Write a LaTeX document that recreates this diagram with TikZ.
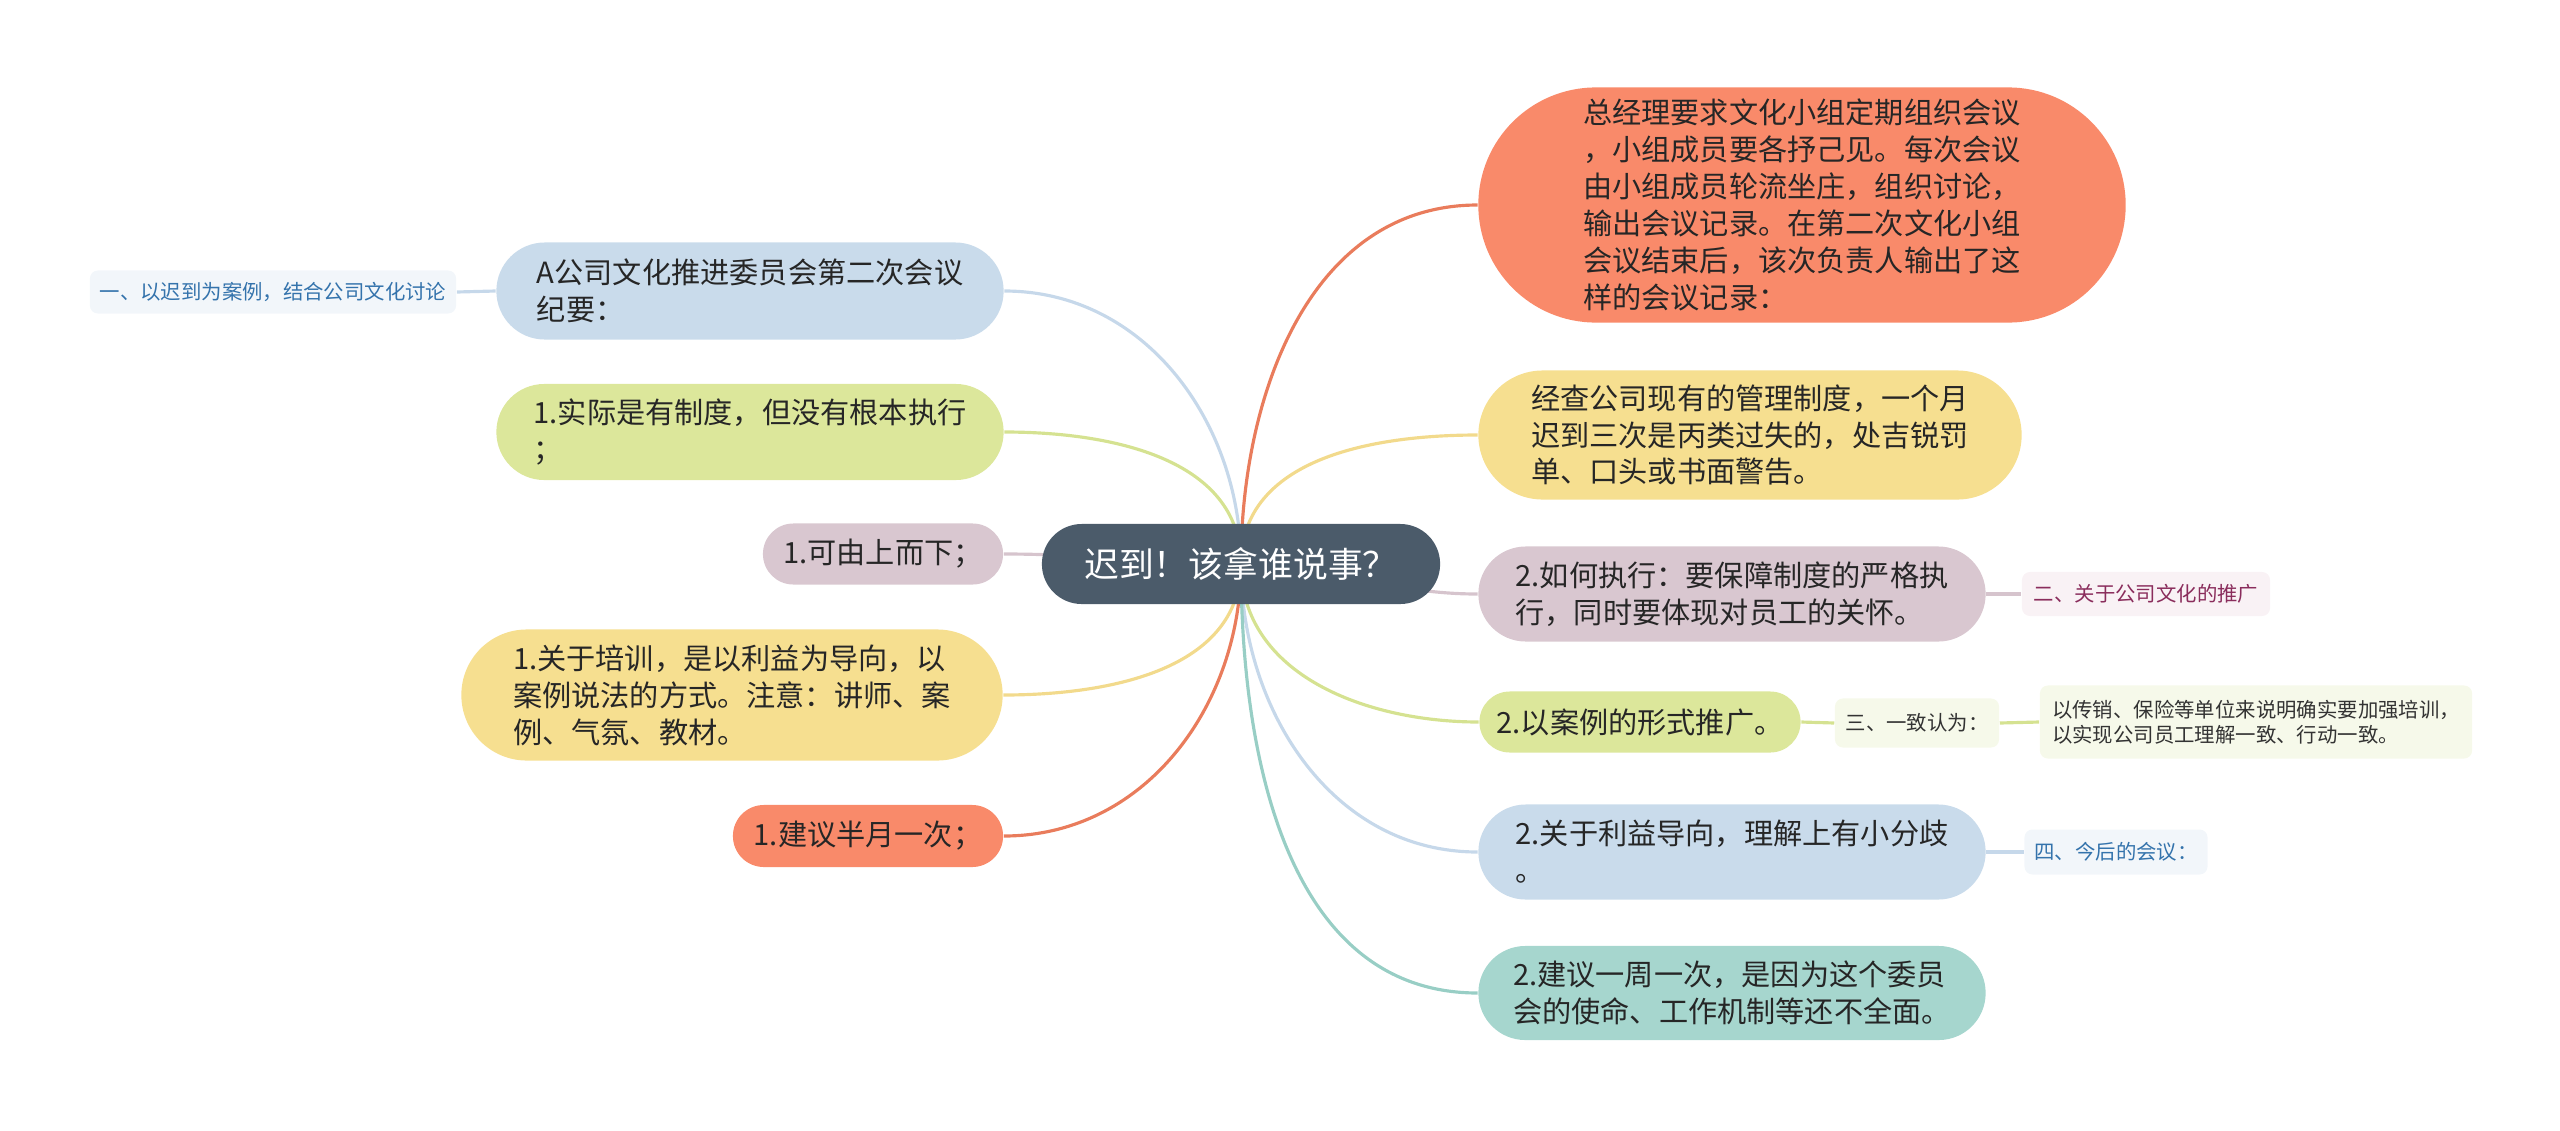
\documentclass[tikz,border=0pt]{standalone}
\usepackage{fontspec}
\setmainfont{Noto Sans CJK SC}
\usetikzlibrary{backgrounds}

\definecolor{RootFill}{HTML}{4B5B6A}
\definecolor{BlueFill}{HTML}{C9DBEB}
\definecolor{GreenFill}{HTML}{DCE79B}
\definecolor{MauveFill}{HTML}{D9C7D0}
\definecolor{YellowFill}{HTML}{F6DF90}
\definecolor{OrangeFill}{HTML}{F98A6A}
\definecolor{TealFill}{HTML}{A6D6CE}
\definecolor{OrangeEdge}{HTML}{E97C5C}
\definecolor{YellowEdge}{HTML}{F2DA8C}
\definecolor{GreenEdge}{HTML}{D5E291}
\definecolor{BlueEdge}{HTML}{C6D8EA}
\definecolor{MauveEdge}{HTML}{D6C4CD}
\definecolor{TealEdge}{HTML}{98CEC5}
\definecolor{PaleBlue}{HTML}{F2F6FA}
\definecolor{PalePink}{HTML}{F9F2F5}
\definecolor{PaleGreen}{HTML}{F6F9EA}
\definecolor{TextBlue}{HTML}{3473AC}
\definecolor{TextPlum}{HTML}{8A2D5C}

\begin{document}
\begin{tikzpicture}[x=0.01cm, y=-0.01cm]
\useasboundingbox (0,0) rectangle (2560,1130);

\tikzset{TopicStyle/.style = {
 shape = rectangle,
 align = left,
 text = black!85,
 inner sep = 1mm,
 font = \fontsize{8.3}{10.5}\selectfont} }

\tikzset{NoteStyle/.style = {
 shape = rectangle,
 align = left,
 rounded corners = 0.8mm,
 inner sep = 0.5mm,
 font = \fontsize{5.8}{7}\selectfont} }

\node[TopicStyle, fill=RootFill, text=white, minimum width=39.8mm, minimum height=8mm,
 rounded corners=3.99mm, font=\fontsize{9.9}{12}\selectfont] (Root) at (1241,564) {迟到！该拿谁说事？};

% left side
\node[TopicStyle, fill=BlueFill, minimum width=50.7mm, minimum height=9.7mm, rounded corners=4.84mm]
 (L1) at (750,291) {A公司文化推进委员会第二次会议\\纪要：};
\node[NoteStyle, fill=PaleBlue, text=TextBlue, minimum width=36.6mm, minimum height=4.3mm]
 (L1a) at (273,292) {一、以迟到为案例，结合公司文化讨论};
\node[TopicStyle, fill=GreenFill, minimum width=50.7mm, minimum height=9.6mm, rounded corners=4.79mm]
 (L2) at (750,432) {1.实际是有制度，但没有根本执行\\；};
\node[TopicStyle, fill=MauveFill, minimum width=24mm, minimum height=6.1mm, rounded corners=3.04mm]
 (L3) at (883,554) {1.可由上而下；};
\node[TopicStyle, fill=YellowFill, minimum width=54.1mm, minimum height=13.1mm, rounded corners=6.54mm]
 (L4) at (732,695) {1.关于培训，是以利益为导向，以\\案例说法的方式。注意：讲师、案\\例、气氛、教材。};
\node[TopicStyle, fill=OrangeFill, minimum width=27mm, minimum height=6.2mm, rounded corners=3.09mm]
 (L5) at (868,836) {1.建议半月一次；};

% right side
\node[TopicStyle, fill=OrangeFill, minimum width=64.7mm, minimum height=23.5mm, rounded corners=11.74mm]
 (R1) at (1802,205) {总经理要求文化小组定期组织会议\\，小组成员要各抒己见。每次会议\\由小组成员轮流坐庄，组织讨论，\\输出会议记录。在第二次文化小组\\会议结束后，该次负责人输出了这\\样的会议记录：};
\node[TopicStyle, fill=YellowFill, minimum width=54.3mm, minimum height=12.9mm, rounded corners=6.44mm]
 (R2) at (1750,435) {经查公司现有的管理制度，一个月\\迟到三次是丙类过失的，处吉锐罚\\单、口头或书面警告。};
\node[TopicStyle, fill=MauveFill, minimum width=50.7mm, minimum height=9.5mm, rounded corners=4.74mm]
 (R3) at (1732,594) {2.如何执行：要保障制度的严格执\\行，同时要体现对员工的关怀。};
\node[NoteStyle, fill=PalePink, text=TextPlum, minimum width=24.8mm, minimum height=4.4mm]
 (R3a) at (2146,594) {二、关于公司文化的推广};
\node[TopicStyle, fill=GreenFill, minimum width=32.1mm, minimum height=6.1mm, rounded corners=3.04mm]
 (R4) at (1640,722) {2.以案例的形式推广。};
\node[NoteStyle, fill=PaleGreen, text=black!80, minimum width=16.4mm, minimum height=4.9mm]
 (R4a) at (1917,723) {三、一致认为：};
\node[NoteStyle, fill=PaleGreen, text=black!80, minimum width=43.2mm, minimum height=7.3mm]
 (R4b) at (2256,722) {以传销、保险等单位来说明确实要加强培训，\\以实现公司员工理解一致、行动一致。};
\node[TopicStyle, fill=BlueFill, minimum width=50.7mm, minimum height=9.5mm, rounded corners=4.74mm]
 (R5) at (1732,852) {2.关于利益导向，理解上有小分歧\\。};
\node[NoteStyle, fill=PaleBlue, text=TextBlue, minimum width=18.3mm, minimum height=4.5mm]
 (R5a) at (2116,852) {四、今后的会议：};
\node[TopicStyle, fill=TealFill, minimum width=50.7mm, minimum height=9.4mm, rounded corners=4.69mm]
 (R6) at (1732,993) {2.建议一周一次，是因为这个委员\\会的使命、工作机制等还不全面。};

\tikzset{EdgeStyle/.style = {line width=0.9pt} }

\begin{scope}[on background layer]
\draw[EdgeStyle, BlueEdge] (Root.center) to[out=90, in=0] (L1.east);
\draw[EdgeStyle, BlueEdge] (L1.west) -- (L1a.east);
\draw[EdgeStyle, GreenEdge] (Root.center) to[out=90, in=0] (L2.east);
\draw[EdgeStyle, MauveEdge] (Root.center) to[out=180, in=0] (L3.east);
\draw[EdgeStyle, YellowEdge] (Root.center) to[out=-90, in=0] (L4.east);
\draw[EdgeStyle, OrangeEdge] (Root.center) to[out=-90, in=0] (L5.east);
\draw[EdgeStyle, OrangeEdge] (Root.center) to[out=90, in=180] (R1.west);
\draw[EdgeStyle, YellowEdge] (Root.center) to[out=90, in=180] (R2.west);
\draw[EdgeStyle, MauveEdge] (Root.center) to[out=0, in=180] (R3.west);
\draw[EdgeStyle, MauveEdge] (R3.east) -- (R3a.west);
\draw[EdgeStyle, GreenEdge] (Root.center) to[out=-90, in=180] (R4.west);
\draw[EdgeStyle, GreenEdge] (R4.east) -- (R4a.west);
\draw[EdgeStyle, GreenEdge] (R4a.east) -- (R4b.west);
\draw[EdgeStyle, BlueEdge] (Root.center) to[out=-90, in=180] (R5.west);
\draw[EdgeStyle, BlueEdge] (R5.east) -- (R5a.west);
\draw[EdgeStyle, TealEdge] (Root.center) to[out=-90, in=180] (R6.west);
\end{scope}

\end{tikzpicture}
\end{document}
